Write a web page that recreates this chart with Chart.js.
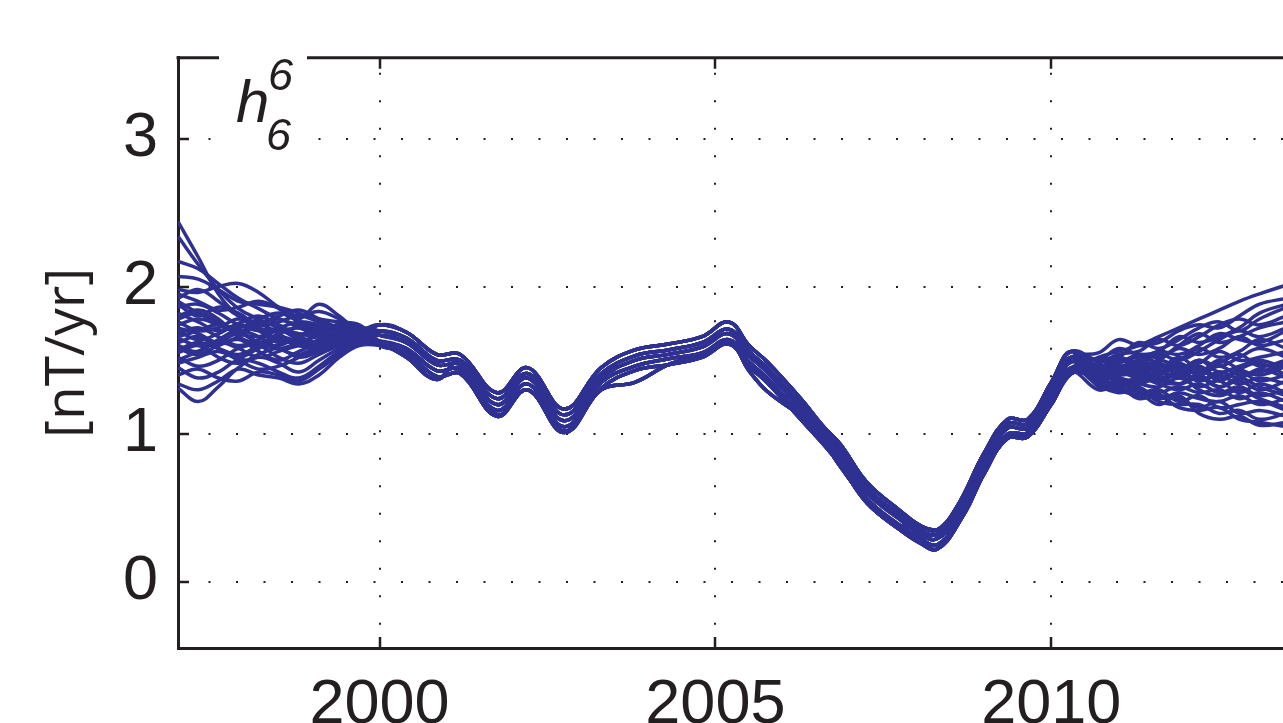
<!DOCTYPE html>
<html>
<head>
<meta charset="utf-8">
<script src="https://cdn.jsdelivr.net/npm/chart.js@4.4.1/dist/chart.umd.min.js"></script>
<style>
  html, body { margin: 0; padding: 0; background: #fff; overflow: hidden; }
  canvas { display: block; }
</style>
</head>
<body>
<canvas id="c" width="1283" height="723"></canvas>
<script>
// ---------------- data ----------------
const xTicks = [2000, 2005, 2010];
const yTicks = [0, 1, 2, 3];

// sample years of the three parts of every ensemble member
const yearsHead = [1997.0, 1997.3, 1997.6, 1997.9, 1998.2, 1998.5, 1998.8, 1999.1, 1999.4, 1999.7];
const yearsCore = [2000.0, 2000.4, 2000.85, 2001.2, 2001.75, 2002.2, 2002.75, 2003.3, 2003.8, 2004.3,
                   2004.8, 2005.2, 2005.5, 2005.77, 2006.27, 2006.61, 2006.86, 2007.26, 2007.75, 2008.05,
                   2008.3, 2008.6, 2009.0, 2009.35, 2009.65, 2010.0, 2010.3];
const yearsTail = [2010.7, 2011.0, 2011.3, 2011.6, 2011.9, 2012.2, 2012.5, 2012.8, 2013.1, 2013.5];

// early part (spread-out members), values in nT/yr
const head01 = [2.44, 2.20, 1.95, 1.80, 1.72, 1.70, 1.72, 1.70, 1.68, 1.70];
const head02 = [2.34, 2.15, 1.98, 1.85, 1.78, 1.72, 1.68, 1.66, 1.70, 1.72];
const head03 = [2.17, 2.12, 2.02, 1.92, 1.85, 1.78, 1.74, 1.72, 1.74, 1.73];
const head04 = [2.07, 2.05, 1.98, 1.90, 1.88, 1.86, 1.82, 1.78, 1.76, 1.74];
const head05 = [1.98, 1.96, 2.00, 2.02, 1.96, 1.86, 1.80, 1.83, 1.78, 1.71];
const head06 = [1.95, 1.90, 1.84, 1.86, 1.90, 1.85, 1.76, 1.72, 1.70, 1.69];
const head07 = [1.90, 1.82, 1.75, 1.72, 1.78, 1.82, 1.78, 1.88, 1.80, 1.70];
const head08 = [1.86, 1.88, 1.82, 1.74, 1.70, 1.72, 1.76, 1.74, 1.70, 1.68];
const head09 = [1.82, 1.76, 1.70, 1.75, 1.80, 1.74, 1.68, 1.70, 1.74, 1.71];
const head10 = [1.80, 1.84, 1.78, 1.66, 1.62, 1.68, 1.72, 1.66, 1.64, 1.67];
const head11 = [1.76, 1.70, 1.72, 1.78, 1.72, 1.64, 1.62, 1.68, 1.72, 1.69];
const head12 = [1.74, 1.78, 1.74, 1.68, 1.66, 1.70, 1.66, 1.62, 1.66, 1.68];
const head13 = [1.70, 1.64, 1.68, 1.74, 1.70, 1.62, 1.66, 1.74, 1.70, 1.66];
const head14 = [1.68, 1.72, 1.66, 1.60, 1.64, 1.70, 1.64, 1.60, 1.64, 1.66];
const head15 = [1.65, 1.60, 1.62, 1.68, 1.62, 1.58, 1.62, 1.66, 1.62, 1.64];
const head16 = [1.62, 1.66, 1.58, 1.52, 1.58, 1.64, 1.60, 1.58, 1.62, 1.65];
const head17 = [1.58, 1.54, 1.60, 1.64, 1.56, 1.50, 1.56, 1.62, 1.66, 1.67];
const head18 = [1.55, 1.60, 1.52, 1.48, 1.54, 1.58, 1.52, 1.56, 1.62, 1.64];
const head19 = [1.52, 1.46, 1.50, 1.58, 1.60, 1.52, 1.48, 1.54, 1.60, 1.63];
const head20 = [1.48, 1.52, 1.56, 1.50, 1.44, 1.46, 1.52, 1.58, 1.60, 1.64];
const head21 = [1.45, 1.38, 1.42, 1.50, 1.48, 1.42, 1.38, 1.46, 1.56, 1.62];
const head22 = [1.40, 1.44, 1.38, 1.36, 1.42, 1.40, 1.36, 1.44, 1.54, 1.62];
const head23 = [1.34, 1.30, 1.36, 1.44, 1.40, 1.38, 1.34, 1.40, 1.52, 1.60];
const head24 = [1.31, 1.22, 1.32, 1.45, 1.52, 1.48, 1.42, 1.50, 1.58, 1.63];
const head25 = [1.88, 1.80, 1.86, 1.82, 1.74, 1.76, 1.80, 1.76, 1.72, 1.70];
const head26 = [1.78, 1.82, 1.76, 1.70, 1.74, 1.78, 1.72, 1.68, 1.68, 1.69];
const head27 = [1.72, 1.68, 1.62, 1.66, 1.74, 1.68, 1.60, 1.64, 1.68, 1.67];
const head28 = [1.66, 1.70, 1.74, 1.70, 1.62, 1.60, 1.66, 1.70, 1.66, 1.65];
const head29 = [1.60, 1.56, 1.64, 1.70, 1.66, 1.58, 1.54, 1.60, 1.64, 1.66];
const head30 = [1.57, 1.62, 1.58, 1.54, 1.60, 1.66, 1.62, 1.56, 1.60, 1.64];
const head31 = [1.50, 1.56, 1.62, 1.58, 1.52, 1.56, 1.60, 1.62, 1.64, 1.66];
const head32 = [1.92, 1.98, 1.90, 1.80, 1.76, 1.80, 1.84, 1.78, 1.72, 1.70];

// well-constrained middle part (six slightly different variants)
const coreA = [1.74, 1.69, 1.54, 1.54, 1.28, 1.45, 1.17, 1.45, 1.57, 1.61, 1.66, 1.76, 1.60, 1.49, 1.24, 1.05, 0.93, 0.67, 0.48, 0.38, 0.35, 0.51, 0.87, 1.10, 1.10, 1.35, 1.56];
const coreB = [1.70, 1.65, 1.50, 1.50, 1.24, 1.41, 1.13, 1.41, 1.53, 1.57, 1.62, 1.71, 1.56, 1.45, 1.20, 1.02, 0.89, 0.63, 0.45, 0.35, 0.32, 0.48, 0.84, 1.07, 1.07, 1.31, 1.52];
const coreC = [1.67, 1.62, 1.47, 1.47, 1.20, 1.38, 1.09, 1.38, 1.50, 1.54, 1.59, 1.68, 1.53, 1.42, 1.17, 0.99, 0.86, 0.60, 0.42, 0.32, 0.29, 0.45, 0.81, 1.04, 1.04, 1.28, 1.49];
const coreD = [1.63, 1.58, 1.43, 1.44, 1.16, 1.34, 1.05, 1.35, 1.46, 1.51, 1.55, 1.64, 1.49, 1.38, 1.13, 0.96, 0.82, 0.56, 0.38, 0.29, 0.25, 0.41, 0.77, 1.00, 1.01, 1.24, 1.45];
const coreE = [1.60, 1.55, 1.39, 1.41, 1.12, 1.30, 1.01, 1.31, 1.43, 1.47, 1.52, 1.61, 1.46, 1.35, 1.10, 0.93, 0.79, 0.53, 0.35, 0.26, 0.22, 0.38, 0.74, 0.97, 0.98, 1.21, 1.42];
const coreF = [1.62, 1.52, 1.37, 1.50, 1.13, 1.30, 1.02, 1.30, 1.35, 1.47, 1.54, 1.63, 1.43, 1.29, 1.12, 0.95, 0.78, 0.55, 0.38, 0.37, 0.35, 0.39, 0.73, 0.98, 0.99, 1.20, 1.41];

// late part (spread-out members)
const tail01 = [1.52, 1.56, 1.60, 1.66, 1.72, 1.78, 1.84, 1.90, 1.95, 2.01];
const tail02 = [1.55, 1.64, 1.60, 1.62, 1.70, 1.74, 1.72, 1.80, 1.88, 1.92];
const tail03 = [1.50, 1.52, 1.62, 1.58, 1.64, 1.72, 1.76, 1.70, 1.78, 1.86];
const tail04 = [1.48, 1.54, 1.56, 1.64, 1.60, 1.66, 1.74, 1.78, 1.74, 1.80];
const tail05 = [1.46, 1.48, 1.54, 1.52, 1.60, 1.68, 1.62, 1.66, 1.72, 1.76];
const tail06 = [1.50, 1.46, 1.50, 1.56, 1.54, 1.60, 1.68, 1.64, 1.62, 1.70];
const tail07 = [1.44, 1.50, 1.46, 1.50, 1.58, 1.54, 1.58, 1.66, 1.60, 1.64];
const tail08 = [1.47, 1.44, 1.50, 1.46, 1.50, 1.58, 1.52, 1.56, 1.64, 1.58];
const tail09 = [1.42, 1.46, 1.44, 1.50, 1.46, 1.48, 1.56, 1.50, 1.52, 1.56];
const tail10 = [1.46, 1.42, 1.48, 1.44, 1.52, 1.44, 1.48, 1.54, 1.46, 1.50];
const tail11 = [1.40, 1.44, 1.40, 1.46, 1.42, 1.50, 1.42, 1.46, 1.50, 1.44];
const tail12 = [1.44, 1.40, 1.44, 1.40, 1.46, 1.40, 1.46, 1.40, 1.42, 1.48];
const tail13 = [1.38, 1.42, 1.38, 1.42, 1.38, 1.44, 1.36, 1.42, 1.36, 1.40];
const tail14 = [1.42, 1.38, 1.36, 1.40, 1.44, 1.36, 1.40, 1.34, 1.38, 1.34];
const tail15 = [1.36, 1.40, 1.42, 1.36, 1.34, 1.40, 1.32, 1.36, 1.30, 1.36];
const tail16 = [1.40, 1.36, 1.34, 1.32, 1.38, 1.32, 1.36, 1.28, 1.34, 1.28];
const tail17 = [1.38, 1.34, 1.38, 1.34, 1.30, 1.34, 1.28, 1.32, 1.26, 1.30];
const tail18 = [1.34, 1.36, 1.30, 1.28, 1.32, 1.28, 1.30, 1.24, 1.28, 1.22];
const tail19 = [1.36, 1.32, 1.32, 1.24, 1.28, 1.24, 1.22, 1.26, 1.20, 1.24];
const tail20 = [1.32, 1.34, 1.28, 1.30, 1.22, 1.26, 1.18, 1.20, 1.22, 1.16];
const tail21 = [1.35, 1.30, 1.26, 1.26, 1.24, 1.18, 1.22, 1.14, 1.16, 1.12];
const tail22 = [1.33, 1.28, 1.30, 1.22, 1.20, 1.20, 1.14, 1.16, 1.10, 1.14];
const tail23 = [1.30, 1.32, 1.24, 1.26, 1.18, 1.16, 1.18, 1.10, 1.08, 1.05];
const tail24 = [1.34, 1.30, 1.28, 1.20, 1.26, 1.14, 1.10, 1.12, 1.06, 1.08];
const tail25 = [1.48, 1.52, 1.48, 1.54, 1.50, 1.56, 1.64, 1.70, 1.66, 1.72];
const tail26 = [1.45, 1.48, 1.52, 1.48, 1.44, 1.50, 1.46, 1.52, 1.58, 1.52];
const tail27 = [1.41, 1.44, 1.48, 1.42, 1.48, 1.42, 1.50, 1.44, 1.40, 1.46];
const tail28 = [1.43, 1.40, 1.42, 1.48, 1.40, 1.46, 1.38, 1.44, 1.48, 1.40];
const tail29 = [1.39, 1.42, 1.46, 1.38, 1.42, 1.36, 1.42, 1.38, 1.44, 1.38];
const tail30 = [1.37, 1.38, 1.34, 1.38, 1.34, 1.38, 1.32, 1.38, 1.32, 1.26];
const tail31 = [1.50, 1.58, 1.54, 1.56, 1.66, 1.62, 1.66, 1.72, 1.82, 1.88];
const tail32 = [1.44, 1.46, 1.42, 1.36, 1.40, 1.30, 1.26, 1.30, 1.24, 1.18];

const heads = [head01, head02, head03, head04, head05, head06, head07, head08, head09, head10, head11, head12,
               head13, head14, head15, head16, head17, head18, head19, head20, head21, head22, head23, head24,
               head25, head26, head27, head28, head29, head30, head31, head32];
const cores = [coreA, coreB, coreC, coreD, coreE, coreF];
const tails = [tail03, tail17, tail09, tail22, tail01, tail12, tail19, tail06, tail14, tail24, tail04, tail10,
               tail20, tail02, tail15, tail08, tail23, tail11, tail05, tail18, tail13, tail21, tail07, tail16,
               tail27, tail31, tail26, tail30, tail25, tail29, tail32, tail28];

// ---------------- build datasets ----------------
const allYears = yearsHead.concat(yearsCore, yearsTail);
const lineColor = 'rgb(46,49,146)';
const axisColor = '#231f20';
const datasets = heads.map((h, i) => {
  const vals = h.concat(cores[i % cores.length], tails[i]);
  return {
    data: allYears.map((yr, k) => ({ x: yr, y: vals[k] })),
    borderColor: lineColor,
    borderWidth: 3.5,
    pointRadius: 0,
    tension: 0.4,
    fill: false
  };
});

// ---------------- plugins ----------------
const framePlugin = {
  id: 'frame',
  afterDraw(chart) {
    const { ctx, chartArea: a, scales } = chart;
    ctx.save();
    ctx.strokeStyle = axisColor;
    ctx.lineWidth = 3;
    // top border of the box
    ctx.beginPath();
    ctx.moveTo(a.left - 1.5, a.top);
    ctx.lineTo(a.right, a.top);
    ctx.stroke();
    // inward tick marks
    ctx.lineWidth = 2.5;
    const tl = 11;
    scales.x.ticks.forEach(t => {
      const px = Math.round(scales.x.getPixelForValue(t.value));
      ctx.beginPath();
      ctx.moveTo(px, a.bottom); ctx.lineTo(px, a.bottom - tl);
      ctx.moveTo(px, a.top); ctx.lineTo(px, a.top + tl);
      ctx.stroke();
    });
    scales.y.ticks.forEach(t => {
      const py = Math.round(scales.y.getPixelForValue(t.value));
      ctx.beginPath();
      ctx.moveTo(a.left, py); ctx.lineTo(a.left + tl, py);
      ctx.stroke();
    });
    // panel label h_6^6 on a white box
    ctx.fillStyle = '#ffffff';
    ctx.fillRect(219, 44, 88, 112);
    ctx.fillStyle = axisColor;
    ctx.textBaseline = 'alphabetic';
    ctx.textAlign = 'left';
    ctx.font = 'italic 60px "Liberation Sans", Arial, sans-serif';
    ctx.fillText('h', 236, 122);
    ctx.font = 'italic 45px "Liberation Sans", Arial, sans-serif';
    ctx.fillText('6', 268, 90);
    ctx.fillText('6', 266, 150);
    ctx.restore();
  }
};

// ---------------- chart ----------------
const tickFont = { family: '"Liberation Sans", Arial, Helvetica, sans-serif', size: 63 };
new Chart(document.getElementById('c'), {
  type: 'line',
  data: { datasets },
  plugins: [framePlugin],
  options: {
    responsive: false,
    animation: false,
    devicePixelRatio: 1,
    layout: { padding: { top: 55, left: 0, right: 0, bottom: 0 } },
    plugins: { legend: { display: false }, tooltip: { enabled: false } },
    scales: {
      x: {
        type: 'linear',
        min: 1997.0,
        max: 2013.45,
        afterBuildTicks: s => { s.ticks = xTicks.map(v => ({ value: v })); },
        afterFit: s => { s.height = 75; },
        ticks: { font: tickFont, color: axisColor, padding: 20, maxRotation: 0, autoSkip: false,
                 callback: v => String(v) },
        grid: { color: axisColor, lineWidth: 2, drawTicks: false },
        border: { display: true, color: axisColor, width: 3, dash: [2, 25.5], dashOffset: 12.5 }
      },
      y: {
        type: 'linear',
        min: -0.45,
        max: 3.55,
        afterBuildTicks: s => { s.ticks = yTicks.map(v => ({ value: v })); },
        afterFit: s => { s.width = 178; },
        ticks: { font: tickFont, color: axisColor, padding: 20, callback: v => String(v) },
        grid: { color: axisColor, lineWidth: 2, drawTicks: false },
        border: { display: true, color: axisColor, width: 3, dash: [2, 25.5], dashOffset: -1 },
        title: {
          display: true,
          text: '[nT/yr]',
          color: axisColor,
          font: { family: '"Open Sans", "Liberation Sans", sans-serif', size: 55 },
          padding: { top: 35, bottom: 0 }
        }
      }
    }
  }
});
</script>
</body>
</html>
